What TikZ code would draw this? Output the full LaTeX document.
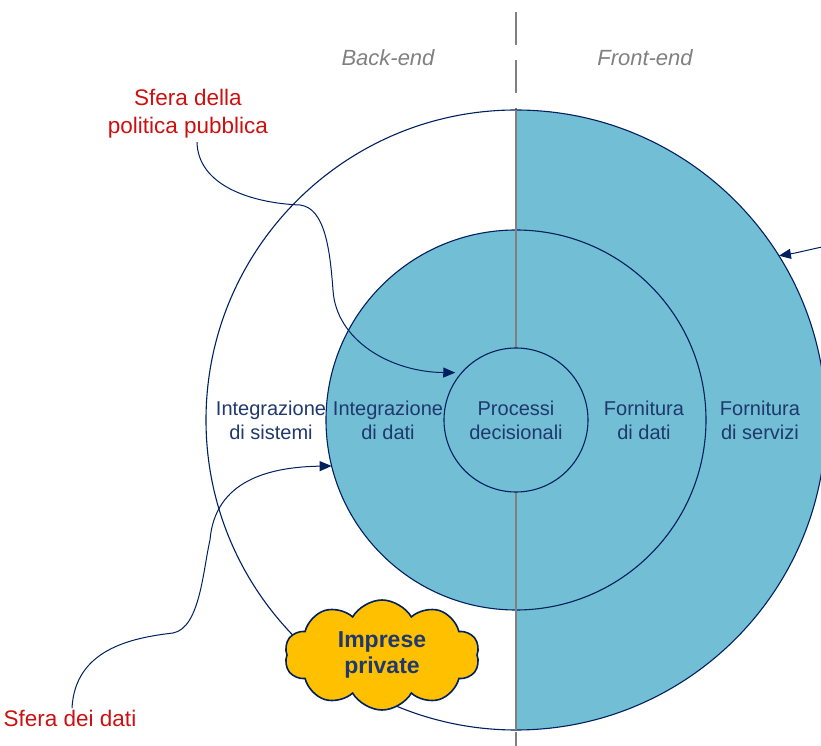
\documentclass[tikz,border=0pt]{standalone}
\usepackage{fontspec}
\setmainfont{Liberation Sans}
\usepackage{xcolor}
\usepackage{tikz}
\usetikzlibrary{arrows.meta,shapes.symbols}
\usetikzlibrary{calc}

\definecolor{ringblue}{RGB}{114,190,212}
\definecolor{navy}{RGB}{0,32,96}
\definecolor{textnavy}{RGB}{31,56,110}
\definecolor{labelred}{RGB}{204,16,16}
\definecolor{sidegray}{RGB}{128,128,128}
\definecolor{cloudgold}{RGB}{255,192,0}

\begin{document}
\begin{tikzpicture}[x=1pt,y=1pt,>={Triangle[length=12pt,width=10pt]},semithick]
	\tikzstyle{ring}=[draw=navy, circle, line width=1.1pt, inner sep=0pt, outer sep=0pt]
	\tikzstyle{lbl}=[text=textnavy, align=center, font=\fontsize{20}{24}\selectfont]
	\tikzstyle{side}=[text=sidegray, font=\fontsize{22}{26}\selectfont\itshape]
	\tikzstyle{sphere}=[text=labelred, align=center, font=\fontsize{22.5}{28}\selectfont]
	\tikzstyle{pointer}=[->, draw=navy, line width=1pt]
	\useasboundingbox (-516,-326) rectangle (305,420);
	% divisione back-end / front-end
	\draw[sidegray, line width=1.5pt, dash pattern=on 33pt off 15pt] (0,408) -- (0,-326);
	% anello esterno
	\begin{scope}
		\clip (0,-320) rectangle (320,320);
		\fill[ringblue] (0,0) circle (310);
	\end{scope}
	\node[ring, minimum size=620pt] (OC) at (0,0) {};
	\node[ring, fill=ringblue, minimum size=380pt] (MC) at (0,0) {};
	\draw[sidegray, line width=1.5pt] (0,310) -- (0,-310);
	\node[ring, fill=ringblue, minimum size=144pt, lbl] (PD) at (0,0) {Processi\\decisionali};
	% testi degli anelli
	\node[lbl] (IS) at (-245,0) {Integrazione\\di sistemi};
	\node[lbl] (ID) at (-128,0) {Integrazione\\di dati};
	\node[lbl] (FD) at (128,0) {Fornitura\\di dati};
	\node[lbl] (FS) at (244,0) {Fornitura\\di servizi};
	\node[side] (BE) at (-128,362) {Back-end};
	\node[side] (FE) at (129,362) {Front-end};
	% nuvola
	\node[cloud, cloud puffs=10, cloud puff arc=120, aspect=1.8, draw=navy, line width=1.6pt,
		fill=cloudgold, minimum width=195pt, minimum height=110pt, inner sep=0pt, align=center,
		text=textnavy, font=\fontsize{23}{26}\selectfont\bfseries] (IP) at (-134,-235) {Imprese\\private};
	% sfere
	\node[sphere] (PP) at (-328,306) {Sfera della\\politica pubblica};
	\node[sphere] (SD) at (-446,-298) {Sfera dei dati};
	\coordinate (FX) at (306,173);
	\draw[pointer] ([xshift=9pt]PP.south) .. controls (-318,235) and (-266,217) .. (-216,215)
		.. controls (-191,212) and (-186,170) .. (-183,130)
		.. controls (-180,80) and (-126,48) .. ([shift={(-4pt,3pt)}]PD.142);
	\draw[pointer] ([xshift=2pt,yshift=-2pt]SD.north) .. controls (-441,-230) and (-386,-218) .. (-343,-213)
		.. controls (-316,-208) and (-313,-150) .. (-306,-120)
		.. controls (-301,-60) and (-246,-47) .. (MC.194);
	\draw[pointer] (FX) .. controls (292,170) and (280,167) .. (OC.32);
\end{tikzpicture}
\end{document}
